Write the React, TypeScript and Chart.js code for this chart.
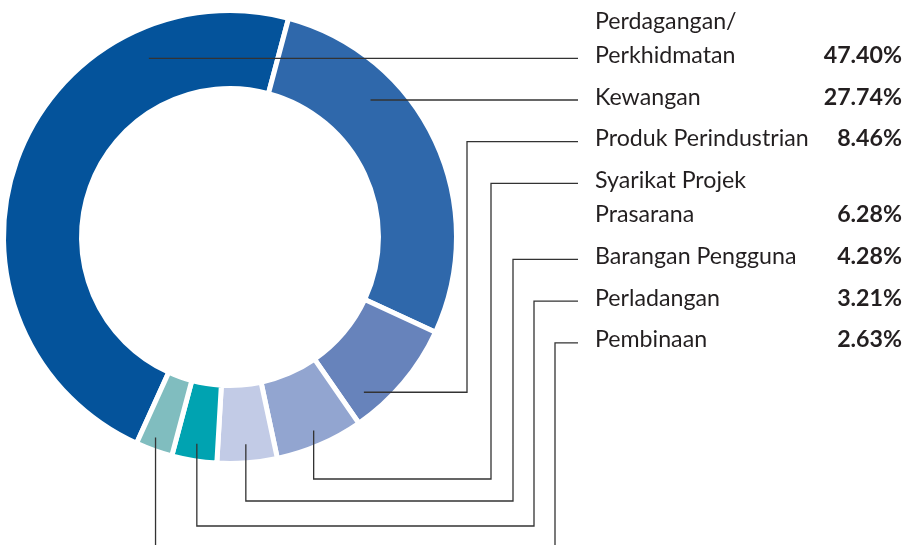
import { useEffect, useRef } from "react";
import { Chart, registerables } from "chart.js";

Chart.register(...registerables);

// ---- data ----
const categories: string[][] = [
  ["Perdagangan/", "Perkhidmatan"],
  ["Kewangan"],
  ["Produk Perindustrian"],
  ["Syarikat Projek", "Prasarana"],
  ["Barangan Pengguna"],
  ["Perladangan"],
  ["Pembinaan"],
];
const shares: number[] = [47.4, 27.74, 8.46, 6.28, 4.28, 3.21, 2.63];
const valueLabels: string[] = ["47.40%", "27.74%", "8.46%", "6.28%", "4.28%", "3.21%", "2.63%"];
const colors: string[] = ["#04539b", "#2f68ab", "#6783bb", "#92a5d0", "#c2cbe6", "#00a3b1", "#80bdbf"];

// ---- layout (styling only) ----
const W = 913;
const H = 545;
const LABEL_X = 595;
const VALUE_RIGHT = 902;
const LEADER_END = 578;
const FIRST_BASELINE = 28.5;
const LINE_STEP = 34.3;
const ENTRY_STEP = 41.7;
const LEADER_LIFT = 4.5;
const leaderLineIndex = [1, 0, 0, 0, 0, 0, 0];
const leaderKind = ["straight", "straight", "side", "drop", "drop", "drop", "drop"];
const elbowX = [0, 0, 467, 491, 513, 534, 555];
const dropY = [0, 0, 0, 479, 501, 526, 552];
const dropRadiusFrac = [0, 0, 0, 0.82, 0.78, 0.8, 0.86];
const dropAngleFrac = [0, 0, 0, 0.5, 0.5, 0.5, 0.58];
const TEXT_COLOR = "#231f20";
const LINE_COLOR = "#333333";
const FONT_FAMILY = "Lato, 'Open Sans', sans-serif";
const FONT_SIZE = 23.2;

const labelsPlugin = {
  id: "sideLabels",
  afterDraw(chart: any) {
    const ctx: CanvasRenderingContext2D = chart.ctx;
    const meta = chart.getDatasetMeta(0);
    ctx.save();
    let cur = FIRST_BASELINE;
    categories.forEach((lines, i) => {
      const baselines = lines.map((_, j) => cur + j * LINE_STEP);
      cur = baselines[baselines.length - 1] + ENTRY_STEP;
      // text
      ctx.fillStyle = TEXT_COLOR;
      ctx.textBaseline = "alphabetic";
      ctx.textAlign = "left";
      ctx.font = `400 ${FONT_SIZE}px ${FONT_FAMILY}`;
      lines.forEach((t, j) => ctx.fillText(t, LABEL_X, baselines[j]));
      ctx.textAlign = "right";
      ctx.font = `700 ${FONT_SIZE}px ${FONT_FAMILY}`;
      ctx.fillText(valueLabels[i], VALUE_RIGHT, baselines[baselines.length - 1]);

      // leader
      const arc = meta.data[i];
      const p = arc.getProps(["x", "y", "startAngle", "endAngle", "innerRadius", "outerRadius"], true);
      const visIn = p.innerRadius + 2.5;
      const visOut = p.outerRadius - 2.5;
      const ly = baselines[leaderLineIndex[i]] - LEADER_LIFT;
      ctx.strokeStyle = LINE_COLOR;
      ctx.lineWidth = 1.3;
      ctx.beginPath();
      if (leaderKind[i] === "straight") {
        const r = visIn + 0.62 * (visOut - visIn);
        const mid = (p.startAngle + p.endAngle) / 2;
        const side = Math.cos(mid) < 0 ? -1 : 1;
        const dy = ly - p.y;
        const sx = p.x + side * Math.sqrt(Math.max(r * r - dy * dy, 0));
        ctx.moveTo(sx, ly);
        ctx.lineTo(LEADER_END, ly);
      } else if (leaderKind[i] === "side") {
        const a = p.startAngle + 0.8 * (p.endAngle - p.startAngle);
        const r = visIn + 0.74 * (visOut - visIn);
        const ax = p.x + r * Math.cos(a);
        const ay = p.y + r * Math.sin(a);
        ctx.moveTo(ax, ay);
        ctx.lineTo(elbowX[i], ay);
        ctx.lineTo(elbowX[i], ly);
        ctx.lineTo(LEADER_END, ly);
      } else {
        const a = p.startAngle + dropAngleFrac[i] * (p.endAngle - p.startAngle);
        const r = visIn + dropRadiusFrac[i] * (visOut - visIn);
        const ax = p.x + r * Math.cos(a);
        const ay = p.y + r * Math.sin(a);
        ctx.moveTo(ax, ay);
        ctx.lineTo(ax, dropY[i]);
        ctx.lineTo(elbowX[i], dropY[i]);
        ctx.lineTo(elbowX[i], ly);
        ctx.lineTo(LEADER_END, ly);
      }
      ctx.stroke();
    });
    ctx.restore();
  },
};

export default function App() {
  const ref = useRef<HTMLCanvasElement>(null);
  useEffect(() => {
    if (!ref.current) return;
    const chart = new Chart(ref.current, {
      type: "doughnut",
      data: {
        labels: categories.map((l) => l.join(" ")),
        datasets: [
          {
            data: shares,
            backgroundColor: colors,
            borderColor: "#ffffff",
            borderWidth: 5,
          },
        ],
      },
      options: {
        responsive: false,
        animation: false,
        devicePixelRatio: 1,
        events: [],
        rotation: 15 - 360 * (shares[0] / 100),
        cutout: "65.56%",
        layout: { padding: { left: 1, top: 8, right: 454, bottom: 79 } },
        plugins: { legend: { display: false }, tooltip: { enabled: false } },
      },
      plugins: [labelsPlugin],
    });
    return () => chart.destroy();
  }, []);
  return (
    <div style={{ position: "absolute", left: 0, top: 0, width: W, height: H, background: "#fff" }}>
      <canvas ref={ref} width={W} height={H} style={{ width: W, height: H, display: "block" }} />
    </div>
  );
}
